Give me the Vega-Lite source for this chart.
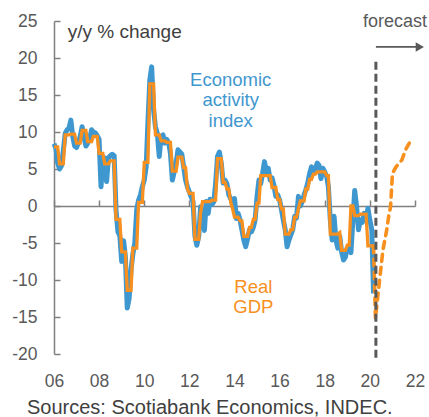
{
  "$schema": "https://vega.github.io/schema/vega-lite/v6.json",
  "width": 361,
  "height": 333,
  "autosize": "none",
  "padding": {"left": 54, "top": 21, "right": 14, "bottom": 63},
  "background": "white",
  "config": {
    "view": {"stroke": null},
    "font": "Liberation Sans",
    "axis": {"labelFont": "Liberation Sans", "titleFont": "Liberation Sans"}
  },
  "datasets": {
    "monthly": [
      {"date": "2006-01", "emae": 8.4, "gdp": 8.0}, {"date": "2006-02", "emae": 7.8, "gdp": 8.0}, {"date": "2006-03", "emae": 5.8, "gdp": 8.0},
      {"date": "2006-04", "emae": 5.0, "gdp": 5.7}, {"date": "2006-05", "emae": 5.4, "gdp": 5.7}, {"date": "2006-06", "emae": 7.5, "gdp": 5.7},
      {"date": "2006-07", "emae": 9.8, "gdp": 9.6}, {"date": "2006-08", "emae": 10.3, "gdp": 9.6}, {"date": "2006-09", "emae": 10.5, "gdp": 9.6},
      {"date": "2006-10", "emae": 11.6, "gdp": 9.7}, {"date": "2006-11", "emae": 9.4, "gdp": 9.7}, {"date": "2006-12", "emae": 8.1, "gdp": 9.7},
      {"date": "2007-01", "emae": 7.9, "gdp": 8.5}, {"date": "2007-02", "emae": 8.6, "gdp": 8.5}, {"date": "2007-03", "emae": 9.4, "gdp": 8.5},
      {"date": "2007-04", "emae": 10.7, "gdp": 10.2}, {"date": "2007-05", "emae": 9.4, "gdp": 10.2}, {"date": "2007-06", "emae": 8.1, "gdp": 10.2},
      {"date": "2007-07", "emae": 8.5, "gdp": 8.7}, {"date": "2007-08", "emae": 9.0, "gdp": 8.7}, {"date": "2007-09", "emae": 10.3, "gdp": 8.7},
      {"date": "2007-10", "emae": 10.0, "gdp": 9.4}, {"date": "2007-11", "emae": 9.9, "gdp": 9.4}, {"date": "2007-12", "emae": 9.5, "gdp": 9.4},
      {"date": "2008-01", "emae": 9.0, "gdp": 7.1}, {"date": "2008-02", "emae": 2.6, "gdp": 7.1}, {"date": "2008-03", "emae": 6.1, "gdp": 7.1},
      {"date": "2008-04", "emae": 6.5, "gdp": 5.7}, {"date": "2008-05", "emae": 3.3, "gdp": 5.7}, {"date": "2008-06", "emae": 6.5, "gdp": 5.7},
      {"date": "2008-07", "emae": 6.8, "gdp": 6.1}, {"date": "2008-08", "emae": 7.0, "gdp": 6.1}, {"date": "2008-09", "emae": 6.8, "gdp": 6.1},
      {"date": "2008-10", "emae": -0.5, "gdp": -1.8}, {"date": "2008-11", "emae": -3.5, "gdp": -1.8}, {"date": "2008-12", "emae": -4.0, "gdp": -1.8},
      {"date": "2009-01", "emae": -7.5, "gdp": -6.2}, {"date": "2009-02", "emae": -4.7, "gdp": -6.2}, {"date": "2009-03", "emae": -6.8, "gdp": -6.2},
      {"date": "2009-04", "emae": -13.8, "gdp": -11.4}, {"date": "2009-05", "emae": -12.5, "gdp": -11.4}, {"date": "2009-06", "emae": -8.6, "gdp": -11.4},
      {"date": "2009-07", "emae": -6.5, "gdp": -5.7}, {"date": "2009-08", "emae": -5.0, "gdp": -5.7}, {"date": "2009-09", "emae": -0.5, "gdp": -5.7},
      {"date": "2009-10", "emae": 0.8, "gdp": 0.5}, {"date": "2009-11", "emae": 1.5, "gdp": 0.5}, {"date": "2009-12", "emae": 2.6, "gdp": 0.5},
      {"date": "2010-01", "emae": 3.5, "gdp": 5.9}, {"date": "2010-02", "emae": 5.3, "gdp": 5.9}, {"date": "2010-03", "emae": 11.2, "gdp": 5.9},
      {"date": "2010-04", "emae": 17.0, "gdp": 16.5}, {"date": "2010-05", "emae": 18.8, "gdp": 16.5}, {"date": "2010-06", "emae": 13.0, "gdp": 16.5},
      {"date": "2010-07", "emae": 10.7, "gdp": 9.6}, {"date": "2010-08", "emae": 9.8, "gdp": 9.6}, {"date": "2010-09", "emae": 6.7, "gdp": 9.6},
      {"date": "2010-10", "emae": 9.4, "gdp": 8.8}, {"date": "2010-11", "emae": 9.6, "gdp": 8.8}, {"date": "2010-12", "emae": 8.5, "gdp": 8.8},
      {"date": "2011-01", "emae": 9.0, "gdp": 8.6}, {"date": "2011-02", "emae": 8.5, "gdp": 8.6}, {"date": "2011-03", "emae": 7.1, "gdp": 8.6},
      {"date": "2011-04", "emae": 3.5, "gdp": 4.7}, {"date": "2011-05", "emae": 4.6, "gdp": 4.7}, {"date": "2011-06", "emae": 5.8, "gdp": 4.7},
      {"date": "2011-07", "emae": 7.6, "gdp": 6.6}, {"date": "2011-08", "emae": 7.3, "gdp": 6.6}, {"date": "2011-09", "emae": 7.0, "gdp": 6.6},
      {"date": "2011-10", "emae": 5.3, "gdp": 5.2}, {"date": "2011-11", "emae": 3.5, "gdp": 5.2}, {"date": "2011-12", "emae": 2.6, "gdp": 2.3},
      {"date": "2012-01", "emae": 1.9, "gdp": 1.7}, {"date": "2012-02", "emae": 1.2, "gdp": 1.7}, {"date": "2012-03", "emae": 0.6, "gdp": 1.7},
      {"date": "2012-04", "emae": -4.1, "gdp": -4.5}, {"date": "2012-05", "emae": -5.3, "gdp": -4.5}, {"date": "2012-06", "emae": -4.1, "gdp": -4.5},
      {"date": "2012-07", "emae": -0.1, "gdp": -0.9}, {"date": "2012-08", "emae": -1.4, "gdp": 0.6}, {"date": "2012-09", "emae": -3.3, "gdp": 0.6},
      {"date": "2012-10", "emae": 0.6, "gdp": 0.6}, {"date": "2012-11", "emae": -1.0, "gdp": 0.6}, {"date": "2012-12", "emae": 0.9, "gdp": 0.6},
      {"date": "2013-01", "emae": 0.2, "gdp": 0.8}, {"date": "2013-02", "emae": 0.6, "gdp": 0.8}, {"date": "2013-03", "emae": 3.0, "gdp": 0.8},
      {"date": "2013-04", "emae": 6.7, "gdp": 6.4}, {"date": "2013-05", "emae": 7.3, "gdp": 6.4}, {"date": "2013-06", "emae": 5.8, "gdp": 6.4},
      {"date": "2013-07", "emae": 3.1, "gdp": 3.2}, {"date": "2013-08", "emae": 3.5, "gdp": 3.2}, {"date": "2013-09", "emae": 3.0, "gdp": 2.3},
      {"date": "2013-10", "emae": 1.5, "gdp": 2.3}, {"date": "2013-11", "emae": 1.0, "gdp": 0.5}, {"date": "2013-12", "emae": 0.4, "gdp": -0.4},
      {"date": "2014-01", "emae": 1.0, "gdp": -1.5}, {"date": "2014-02", "emae": -1.7, "gdp": -1.5}, {"date": "2014-03", "emae": -1.0, "gdp": -1.5},
      {"date": "2014-04", "emae": -1.9, "gdp": -2.0}, {"date": "2014-05", "emae": -3.2, "gdp": -2.0}, {"date": "2014-06", "emae": -4.6, "gdp": -4.1},
      {"date": "2014-07", "emae": -5.5, "gdp": -4.1}, {"date": "2014-08", "emae": -4.4, "gdp": -4.1}, {"date": "2014-09", "emae": -3.2, "gdp": -2.9},
      {"date": "2014-10", "emae": -3.5, "gdp": -2.9}, {"date": "2014-11", "emae": -2.9, "gdp": -1.8}, {"date": "2014-12", "emae": -1.9, "gdp": -1.8},
      {"date": "2015-01", "emae": 1.3, "gdp": 0.4}, {"date": "2015-02", "emae": 3.5, "gdp": 0.4}, {"date": "2015-03", "emae": 3.0, "gdp": 4.1},
      {"date": "2015-04", "emae": 4.4, "gdp": 4.1}, {"date": "2015-05", "emae": 6.0, "gdp": 4.1}, {"date": "2015-06", "emae": 4.6, "gdp": 4.1},
      {"date": "2015-07", "emae": 5.1, "gdp": 4.1}, {"date": "2015-08", "emae": 3.5, "gdp": 4.1}, {"date": "2015-09", "emae": 3.8, "gdp": 2.5},
      {"date": "2015-10", "emae": 2.8, "gdp": 2.5}, {"date": "2015-11", "emae": 1.3, "gdp": 2.5}, {"date": "2015-12", "emae": 1.5, "gdp": 0.9},
      {"date": "2016-01", "emae": 0.8, "gdp": 0.9}, {"date": "2016-02", "emae": -0.5, "gdp": -0.4}, {"date": "2016-03", "emae": -1.9, "gdp": -0.4},
      {"date": "2016-04", "emae": -3.2, "gdp": -3.8}, {"date": "2016-05", "emae": -5.5, "gdp": -3.8}, {"date": "2016-06", "emae": -4.6, "gdp": -3.8},
      {"date": "2016-07", "emae": -3.9, "gdp": -3.2}, {"date": "2016-08", "emae": -3.2, "gdp": -3.2}, {"date": "2016-09", "emae": -1.4, "gdp": -1.5},
      {"date": "2016-10", "emae": -1.6, "gdp": -1.5}, {"date": "2016-11", "emae": 1.3, "gdp": -0.4}, {"date": "2016-12", "emae": 0.0, "gdp": 0.7},
      {"date": "2017-01", "emae": 0.6, "gdp": 0.7}, {"date": "2017-02", "emae": 1.5, "gdp": 0.7}, {"date": "2017-03", "emae": 2.2, "gdp": 2.3},
      {"date": "2017-04", "emae": 3.1, "gdp": 2.3}, {"date": "2017-05", "emae": 4.4, "gdp": 3.6}, {"date": "2017-06", "emae": 5.3, "gdp": 3.6},
      {"date": "2017-07", "emae": 4.4, "gdp": 4.3}, {"date": "2017-08", "emae": 5.0, "gdp": 4.3}, {"date": "2017-09", "emae": 5.8, "gdp": 4.6},
      {"date": "2017-10", "emae": 5.5, "gdp": 4.6}, {"date": "2017-11", "emae": 3.7, "gdp": 4.6}, {"date": "2017-12", "emae": 5.1, "gdp": 4.6},
      {"date": "2018-01", "emae": 4.6, "gdp": 4.6}, {"date": "2018-02", "emae": 4.0, "gdp": 4.1}, {"date": "2018-03", "emae": 2.6, "gdp": 4.1},
      {"date": "2018-04", "emae": -1.9, "gdp": -3.8}, {"date": "2018-05", "emae": -4.6, "gdp": -3.8}, {"date": "2018-06", "emae": -1.4, "gdp": -3.8},
      {"date": "2018-07", "emae": -4.6, "gdp": -3.8}, {"date": "2018-08", "emae": -5.7, "gdp": -3.8}, {"date": "2018-09", "emae": -4.1, "gdp": -3.6},
      {"date": "2018-10", "emae": -6.2, "gdp": -6.0}, {"date": "2018-11", "emae": -7.3, "gdp": -6.0}, {"date": "2018-12", "emae": -6.9, "gdp": -6.0},
      {"date": "2019-01", "emae": -5.7, "gdp": -5.3}, {"date": "2019-02", "emae": -5.5, "gdp": -5.3}, {"date": "2019-03", "emae": -6.3, "gdp": 0.0},
      {"date": "2019-04", "emae": -1.9, "gdp": 0.0}, {"date": "2019-05", "emae": 2.1, "gdp": -1.3}, {"date": "2019-06", "emae": -0.1, "gdp": -1.3},
      {"date": "2019-07", "emae": -3.2, "gdp": -1.3}, {"date": "2019-08", "emae": -1.9, "gdp": -1.1}, {"date": "2019-09", "emae": -2.2, "gdp": -1.1},
      {"date": "2019-10", "emae": -1.0, "gdp": -1.1}, {"date": "2019-11", "emae": -1.9, "gdp": -1.1}, {"date": "2019-12", "emae": -0.3, "gdp": -5.4},
      {"date": "2020-01", "emae": -1.9, "gdp": -5.4}, {"date": "2020-02", "emae": -3.2, "gdp": -5.4}, {"date": "2020-03", "emae": -11.8, "gdp": -5.4}
    ],
    "forecast": [
      {"date": "2020-03", "gdp": -5.4}, {"date": "2020-04", "gdp": -15.2}, {"date": "2020-06", "gdp": -10.4},
      {"date": "2020-08", "gdp": -5.9}, {"date": "2020-10", "gdp": -3.2}, {"date": "2020-11", "gdp": -1.4},
      {"date": "2020-12", "gdp": -0.1}, {"date": "2021-01", "gdp": 4.4}, {"date": "2021-03", "gdp": 5.3},
      {"date": "2021-06", "gdp": 6.2}, {"date": "2021-08", "gdp": 7.6}, {"date": "2021-10", "gdp": 8.5}
    ]
  },
  "encoding": {
    "x": {
      "field": "date",
      "type": "temporal",
      "title": null,
      "scale": {"domain": [{"year": 2006, "month": 1, "date": 1}, {"year": 2022, "month": 1, "date": 1}]},
      "axis": {
        "values": [{"year": 2006}, {"year": 2008}, {"year": 2010}, {"year": 2012}, {"year": 2014}, {"year": 2016}, {"year": 2018}, {"year": 2020}, {"year": 2022}],
        "format": "%y",
        "title": null,
        "grid": false,
        "offset": -148,
        "tickSize": -6,
        "labelPadding": 172,
        "domainColor": "#808080",
        "domainWidth": 1.5,
        "tickColor": "#808080",
        "tickWidth": 1.5,
        "labelFontSize": 17.5,
        "labelColor": "#595959",
        "labelFlush": false,
        "labelOverlap": false
      }
    },
    "y": {
      "field": "v",
      "type": "quantitative",
      "title": null,
      "scale": {"domain": [-20, 25], "nice": false},
      "axis": {
        "values": [-20, -15, -10, -5, 0, 5, 10, 15, 20, 25],
        "labelExpr": "toString(datum.value)",
        "title": null,
        "grid": false,
        "tickSize": -6,
        "labelPadding": 23,
        "domainColor": "#808080",
        "domainWidth": 1.5,
        "tickColor": "#808080",
        "tickWidth": 1.5,
        "labelFontSize": 17.5,
        "labelColor": "#595959"
      }
    }
  },
  "layer": [
    {
      "data": {"name": "monthly"},
      "mark": {"type": "line", "color": "#3F97CF", "strokeWidth": 5, "strokeJoin": "round"},
      "encoding": {"y": {"field": "emae", "type": "quantitative", "title": null, "scale": {"domain": [-20, 25], "nice": false}}}
    },
    {
      "data": {"name": "monthly"},
      "mark": {"type": "line", "color": "#F7901E", "strokeWidth": 3.3, "strokeJoin": "miter"},
      "encoding": {"y": {"field": "gdp", "type": "quantitative", "title": null, "scale": {"domain": [-20, 25], "nice": false}}}
    },
    {
      "data": {"name": "forecast"},
      "mark": {"type": "line", "color": "#F7901E", "strokeWidth": 3.6, "strokeDash": [7, 6], "strokeCap": "round"},
      "encoding": {"y": {"field": "gdp", "type": "quantitative", "title": null, "scale": {"domain": [-20, 25], "nice": false}}}
    },
    {
      "data": {"values": [{"date": "2020-04-08", "v": -20.5, "v2": 20}]},
      "mark": {"type": "rule", "color": "#595959", "strokeWidth": 3, "strokeDash": [8, 4]},
      "encoding": {"y2": {"field": "v2"}}
    },
    {
      "data": {"values": [{"date": "2020-04-08", "date2": "2022-03-10", "v": 21.5}]},
      "mark": {"type": "rule", "color": "#595959", "strokeWidth": 1.6},
      "encoding": {"x2": {"field": "date2"}}
    },
    {
      "data": {"values": [{"date": "2022-03-20", "v": 21.5}]},
      "mark": {"type": "point", "shape": "triangle-right", "filled": true, "color": "#595959", "size": 90, "opacity": 1}
    },
    {
      "data": {"values": [{"date": "2013-11-01", "v": 17.0, "label": "Economic"}, {"date": "2013-11-01", "v": 14.3, "label": "activity"}, {"date": "2013-11-01", "v": 11.5, "label": "index"}]},
      "mark": {"type": "text", "color": "#3F97CF", "fontSize": 18.5, "align": "center", "baseline": "middle"},
      "encoding": {"text": {"field": "label"}}
    },
    {
      "data": {"values": [{"date": "2014-11-03", "v": -11.0, "label": "Real"}, {"date": "2014-11-03", "v": -13.7, "label": "GDP"}]},
      "mark": {"type": "text", "color": "#F7901E", "fontSize": 18.5, "align": "center", "baseline": "middle"},
      "encoding": {"text": {"field": "label"}}
    },
    {
      "data": {"values": [{"date": "2006-08-10", "v": 23.5, "label": "y/y % change"}]},
      "mark": {"type": "text", "color": "#404040", "fontSize": 19, "align": "left", "baseline": "middle"},
      "encoding": {"text": {"field": "label"}}
    },
    {
      "data": {"values": [{"date": "2021-02-10", "v": 24.9, "label": "forecast"}]},
      "mark": {"type": "text", "color": "#595959", "fontSize": 18, "align": "center", "baseline": "middle"},
      "encoding": {"text": {"field": "label"}}
    },
    {
      "data": {"values": [{"date": "2004-10-20", "v": -27.3, "label": "Sources: Scotiabank Economics, INDEC."}]},
      "mark": {"type": "text", "color": "#404040", "fontSize": 20, "align": "left", "baseline": "middle"},
      "encoding": {"text": {"field": "label"}}
    }
  ]
}
